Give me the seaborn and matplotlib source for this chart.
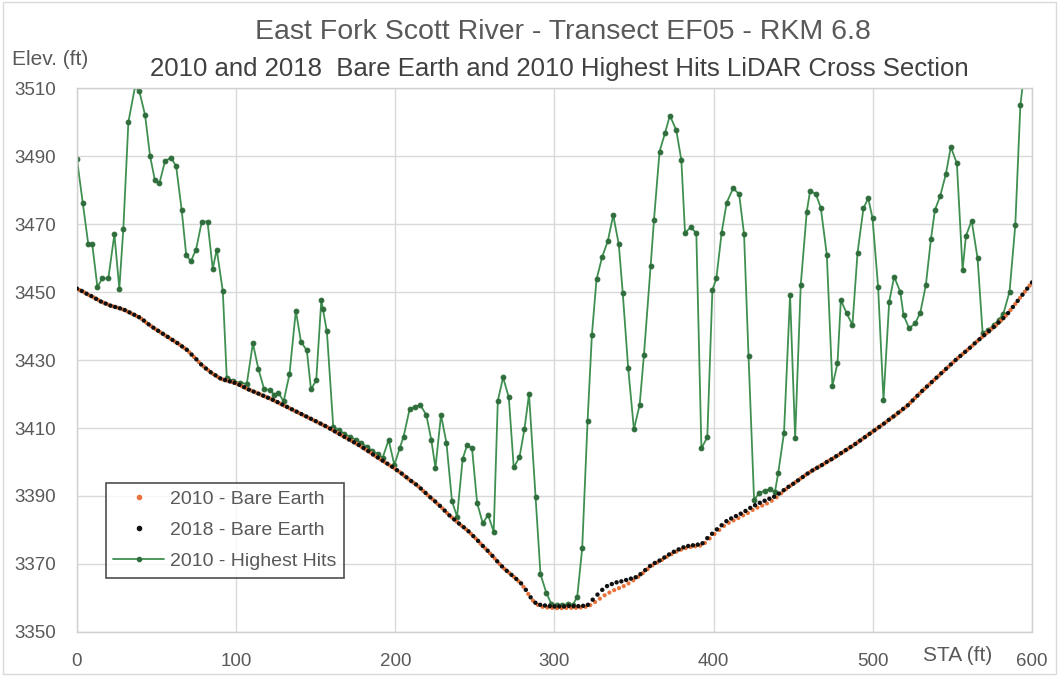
import numpy as np
import pandas as pd
import matplotlib
matplotlib.use("Agg")
import matplotlib.pyplot as plt
from matplotlib.lines import Line2D
import seaborn as sns

# Survey stations (ft) and bare-earth elevations (ft)
sta_2018 = np.arange(0, 601, 3)
elev_2018 = [
    3451.0, 3450.3, 3449.5, 3448.8, 3448.0, 3447.2, 3446.6, 3446.0, 3445.6, 3445.2,
    3444.7, 3444.0, 3443.3, 3442.6, 3441.6, 3440.5, 3439.5, 3438.6, 3437.7, 3436.8,
    3435.9, 3435.0, 3434.0, 3433.0, 3431.6, 3430.2, 3428.7, 3427.5, 3426.4, 3425.5,
    3424.6, 3424.1, 3423.7, 3423.3, 3422.7, 3422.0, 3421.3, 3420.7, 3420.1, 3419.5,
    3418.9, 3418.3, 3417.6, 3416.9, 3416.2, 3415.5, 3414.8, 3414.1, 3413.4, 3412.7,
    3412.0, 3411.3, 3410.6, 3409.8, 3409.0, 3408.2, 3407.4, 3406.6, 3405.8, 3405.0,
    3404.1, 3403.2, 3402.2, 3401.3, 3400.4, 3399.5, 3398.6, 3397.6, 3396.6, 3395.5,
    3394.4, 3393.4, 3392.2, 3390.9, 3389.6, 3388.4, 3387.1, 3385.7, 3384.3, 3383.1,
    3381.9, 3380.8, 3379.6, 3378.2, 3376.8, 3375.3, 3373.9, 3372.4, 3370.8, 3369.3,
    3368.0, 3366.8, 3365.6, 3364.3, 3362.4, 3360.2, 3358.6, 3358.0, 3357.8, 3357.6,
    3357.5, 3357.5, 3357.5, 3357.7, 3357.6, 3357.6, 3357.7, 3358.0, 3359.5, 3361.0,
    3362.4, 3363.5, 3364.1, 3364.6, 3364.9, 3365.3, 3365.7, 3366.1, 3367.0, 3368.2,
    3369.4, 3370.3, 3371.0, 3371.9, 3372.8, 3373.6, 3374.3, 3374.9, 3375.3, 3375.5,
    3375.7, 3376.1, 3377.6, 3378.9, 3380.2, 3381.4, 3382.6, 3383.4, 3384.1, 3384.8,
    3385.6, 3386.5, 3387.3, 3388.0, 3388.6, 3389.2, 3389.8, 3390.7, 3391.7, 3392.7,
    3393.6, 3394.6, 3395.6, 3396.6, 3397.5, 3398.3, 3399.1, 3400.0, 3400.8, 3401.7,
    3402.6, 3403.5, 3404.4, 3405.3, 3406.3, 3407.3, 3408.3, 3409.3, 3410.3, 3411.3,
    3412.4, 3413.4, 3414.5, 3415.6, 3416.7, 3418.1, 3419.5, 3420.9, 3422.2, 3423.5,
    3424.8, 3426.1, 3427.4, 3428.7, 3430.0, 3431.2, 3432.4, 3433.6, 3434.9, 3436.1,
    3437.3, 3438.5, 3439.7, 3441.0, 3442.3, 3443.8, 3445.6, 3447.4, 3449.2, 3451.0,
    3452.8,
]

sta_2010 = np.arange(1.5, 600, 3)
elev_2010 = [
    3450.6, 3449.9, 3449.1, 3448.4, 3447.6, 3446.9, 3446.3, 3445.8, 3445.4, 3444.9,
    3444.3, 3443.6, 3442.9, 3442.1, 3441.0, 3440.0, 3439.0, 3438.1, 3437.2, 3436.3,
    3435.4, 3434.5, 3433.5, 3432.3, 3430.9, 3429.4, 3428.1, 3427.0, 3425.9, 3425.0,
    3424.3, 3423.9, 3423.5, 3423.0, 3422.3, 3421.6, 3421.0, 3420.4, 3419.8, 3419.2,
    3418.6, 3417.9, 3417.2, 3416.5, 3415.8, 3415.1, 3414.4, 3413.7, 3413.0, 3412.3,
    3411.6, 3410.9, 3410.2, 3409.4, 3408.6, 3407.8, 3407.0, 3406.2, 3405.4, 3404.5,
    3403.6, 3402.7, 3401.7, 3400.8, 3399.9, 3399.0, 3398.1, 3397.1, 3396.0, 3394.9,
    3393.9, 3392.8, 3391.5, 3390.2, 3389.0, 3387.7, 3386.4, 3385.0, 3383.7, 3382.5,
    3381.3, 3380.2, 3378.9, 3377.5, 3376.0, 3374.6, 3373.1, 3371.6, 3370.0, 3368.6,
    3367.4, 3366.2, 3364.9, 3363.3, 3361.2, 3359.2, 3358.0, 3357.4, 3357.2, 3357.1,
    3357.0, 3357.0, 3357.1, 3357.1, 3357.1, 3357.2, 3357.4, 3357.9, 3358.8, 3359.8,
    3360.8, 3361.6, 3362.3, 3362.9, 3363.5, 3364.3, 3365.2, 3366.2, 3367.3, 3368.5,
    3369.6, 3370.4, 3371.2, 3372.1, 3372.9, 3373.6, 3374.2, 3374.7, 3375.0, 3375.2,
    3375.4, 3376.2, 3377.5, 3378.8, 3380.0, 3381.2, 3382.1, 3382.8, 3383.5, 3384.3,
    3385.0, 3385.9, 3386.6, 3387.2, 3387.8, 3388.6, 3389.6, 3390.8, 3392.0, 3393.1,
    3394.1, 3395.1, 3396.1, 3397.0, 3397.9, 3398.7, 3399.5, 3400.4, 3401.2, 3402.1,
    3403.0, 3403.9, 3404.8, 3405.8, 3406.8, 3407.8, 3408.8, 3409.8, 3410.8, 3411.8,
    3412.9, 3413.9, 3415.0, 3416.1, 3417.4, 3418.8, 3420.2, 3421.5, 3422.8, 3424.1,
    3425.4, 3426.7, 3428.0, 3429.3, 3430.6, 3431.8, 3433.0, 3434.2, 3435.5, 3436.7,
    3437.9, 3439.1, 3440.3, 3441.6, 3443.0, 3444.7, 3446.5, 3448.3, 3450.1, 3451.9,
]

# 2010 highest-hit (first return) elevations
sta_hh = [
    0.0, 3.6, 7.1, 9.6, 12.8, 15.9, 19.7, 23.5, 26.6, 29.1,
    32.3, 36.5, 39.2, 42.8, 45.9, 48.9, 51.8, 55.3, 59.1, 62.3,
    65.8, 68.6, 71.5, 74.8, 78.4, 82.0, 85.3, 87.8, 91.6, 94.1,
    98.3, 102.5, 106.7, 110.5, 114.0, 117.6, 121.4, 124.0, 126.6, 129.8,
    133.5, 137.5, 140.7, 144.4, 147.0, 150.3, 153.5, 154.5, 157.0, 161.0,
    164.5, 168.0, 171.5, 175.0, 178.5, 182.0, 185.5, 189.0, 192.0, 195.8,
    199.4, 202.7, 205.2, 209.0, 212.6, 215.7, 219.5, 222.6, 225.2, 228.7,
    232.1, 235.6, 238.8, 242.3, 245.1, 248.2, 251.4, 254.9, 258.3, 261.8,
    264.4, 267.7, 271.3, 274.4, 278.0, 281.1, 284.0, 288.1, 291.2, 294.8,
    298.1, 301.5, 305.0, 308.5, 311.5, 314.3, 317.4, 320.8, 323.5, 326.4,
    330.0, 333.5, 336.9, 340.4, 342.9, 346.3, 349.9, 353.5, 356.2, 360.4,
    362.5, 366.0, 369.4, 372.5, 376.5, 379.7, 382.0, 385.5, 389.1, 392.3,
    396.0, 399.2, 401.7, 405.0, 408.2, 412.2, 416.0, 419.1, 421.9, 425.4,
    428.5, 432.0, 435.5, 438.5, 440.6, 444.2, 448.0, 451.2, 454.7, 458.5,
    460.6, 464.2, 467.3, 471.1, 474.6, 477.8, 479.9, 483.6, 487.2, 490.4,
    494.1, 497.1, 499.8, 503.3, 506.7, 510.3, 513.4, 517.2, 519.3, 522.8,
    526.6, 529.8, 533.3, 536.5, 539.0, 542.3, 545.9, 549.0, 552.8, 556.4,
    558.5, 562.1, 565.8, 569.0, 572.5, 576.0, 579.0, 582.0, 585.9, 589.5,
    592.7, 595.5,
]
elev_hh = [
    3489.0, 3476.3, 3464.0, 3464.0, 3451.5, 3454.0, 3454.0, 3467.0, 3451.0, 3468.5,
    3500.0, 3510.5, 3509.0, 3502.0, 3490.0, 3483.0, 3482.0, 3488.5, 3489.5, 3487.0,
    3474.0, 3461.0, 3459.0, 3462.5, 3470.7, 3470.7, 3456.8, 3462.5, 3450.3, 3424.8,
    3423.8, 3423.3, 3423.0, 3434.9, 3427.3, 3421.4, 3421.2, 3419.7, 3420.4, 3417.8,
    3425.8, 3444.5, 3435.4, 3432.8, 3421.4, 3424.0, 3447.6, 3445.0, 3438.4, 3410.4,
    3409.4, 3408.3, 3407.4, 3406.6, 3405.6, 3404.5, 3403.3, 3402.3, 3401.2, 3406.5,
    3399.1, 3404.0, 3407.5, 3415.6, 3416.3, 3416.8, 3413.8, 3406.5, 3398.3, 3413.8,
    3405.7, 3388.5, 3383.9, 3400.9, 3405.0, 3404.0, 3388.0, 3382.0, 3384.4, 3379.5,
    3418.0, 3424.9, 3419.0, 3398.4, 3401.4, 3409.6, 3420.0, 3389.6, 3367.0, 3361.6,
    3358.2, 3357.9, 3358.0, 3358.1, 3357.9, 3360.4, 3374.6, 3412.2, 3437.4, 3453.7,
    3460.4, 3465.0, 3472.6, 3464.0, 3449.6, 3427.6, 3409.6, 3416.8, 3431.5, 3457.6,
    3471.2, 3491.3, 3496.7, 3501.9, 3497.6, 3488.8, 3467.4, 3469.0, 3467.4, 3404.0,
    3407.3, 3450.6, 3454.0, 3467.4, 3476.3, 3480.5, 3478.8, 3467.0, 3431.2, 3388.8,
    3390.8, 3391.6, 3392.0, 3391.2, 3396.9, 3408.6, 3449.1, 3407.0, 3452.0, 3473.6,
    3479.8, 3478.8, 3474.8, 3460.9, 3422.4, 3429.0, 3447.6, 3443.7, 3440.3, 3461.6,
    3474.6, 3477.6, 3471.7, 3451.6, 3418.2, 3447.2, 3454.5, 3450.1, 3443.2, 3439.3,
    3440.8, 3443.9, 3452.0, 3465.5, 3474.1, 3478.2, 3484.7, 3492.7, 3487.8, 3456.5,
    3466.5, 3471.0, 3459.9, 3437.8, 3438.8, 3440.3, 3441.8, 3443.6, 3450.1, 3469.6,
    3505.0, 3516.0,
]

x_ticks = [0, 100, 200, 300, 400, 500, 600]
y_ticks = [3350, 3370, 3390, 3410, 3430, 3450, 3470, 3490, 3510]

COL_2010 = "#e8743b"
COL_2018 = "#111111"
COL_HH = "#3f9050"
COL_HH_MK = "#2f6e3c"
GREY_TXT = "#595959"

sns.set_theme(style="whitegrid")
plt.rcParams["font.family"] = ["Liberation Sans Narrow", "Liberation Sans", "DejaVu Sans"]

df_2010 = pd.DataFrame({"sta": sta_2010, "elev": elev_2010})
df_2018 = pd.DataFrame({"sta": sta_2018, "elev": elev_2018})
df_hh = pd.DataFrame({"sta": sta_hh, "elev": elev_hh})

fig = plt.figure(figsize=(10.59, 6.76), dpi=100)
ax = fig.add_axes([0.0727, 0.0651, 0.9018, 0.8047])

sns.lineplot(data=df_hh, x="sta", y="elev", ax=ax, color=COL_HH, linewidth=1.3,
             marker="o", markersize=3.4, markerfacecolor=COL_HH_MK,
             markeredgecolor=COL_HH_MK, estimator=None, sort=False, zorder=2)
sns.scatterplot(data=df_2010, x="sta", y="elev", ax=ax, color=COL_2010, s=9,
                edgecolor="none", zorder=3)
sns.scatterplot(data=df_2018, x="sta", y="elev", ax=ax, color=COL_2018, s=10,
                edgecolor="none", zorder=4)

ax.set_xlim(0, 600)
ax.set_ylim(3350, 3510)
ax.set_xticks(x_ticks)
ax.set_yticks(y_ticks)
ax.set_xlabel("")
ax.set_ylabel("")
ax.grid(True, color="#d9d9d9", linewidth=1.0)
for sp in ax.spines.values():
    sp.set_visible(True)
    sp.set_color("#d0d0d0")
    sp.set_linewidth(1.0)
ax.tick_params(axis="y", length=0, labelsize=13.5, colors=GREY_TXT, pad=15)
ax.tick_params(axis="x", length=0, labelsize=13.5, colors=GREY_TXT, pad=15)

fig.text(0.532, 0.952, "East Fork Scott River - Transect EF05 - RKM 6.8",
         ha="center", va="center", fontsize=20.5, color=GREY_TXT)
fig.text(0.528, 0.898, "2010 and 2018  Bare Earth and 2010 Highest Hits LiDAR Cross Section",
         ha="center", va="center", fontsize=18.5, color="#404040")
fig.text(0.011, 0.912, "Elev. (ft)", ha="left", va="center", fontsize=15, color=GREY_TXT)
fig.text(0.904, 0.031, "STA (ft)", ha="center", va="center", fontsize=15, color=GREY_TXT)

handles = [
    Line2D([], [], linestyle="none", marker="o", markersize=3, color=COL_2010),
    Line2D([], [], linestyle="none", marker="o", markersize=3, color=COL_2018),
    Line2D([], [], color=COL_HH, linewidth=1.3, marker="o", markersize=3,
           markerfacecolor=COL_HH_MK, markeredgecolor=COL_HH_MK),
]
labels = ["2010 - Bare Earth", "2018 - Bare Earth", "2010 - Highest Hits"]
leg = ax.legend(handles, labels, loc="lower left", bbox_to_anchor=(0.03, 0.10),
                frameon=True, fancybox=False, fontsize=14, handlelength=2.6,
                handletextpad=0.3, borderpad=0.4, labelspacing=0.68,
                borderaxespad=0)
leg.get_frame().set_edgecolor("#222222")
leg.get_frame().set_linewidth(1.2)
for t in leg.get_texts():
    t.set_color(GREY_TXT)

# light outer frame around the chart area
fig.patches.append(plt.Rectangle((0.003, 0.003), 0.994, 0.994, transform=fig.transFigure,
                                 fill=False, edgecolor="#d9d9d9", linewidth=1.0))

fig.savefig("out.png", dpi=100)
